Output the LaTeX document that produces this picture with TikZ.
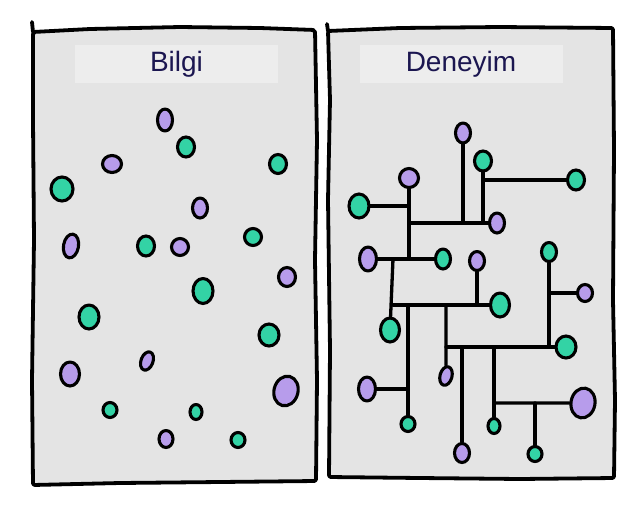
\documentclass[tikz,border=0pt]{standalone}
\usepackage{fontspec}
\setmainfont{Liberation Sans}
\usepackage{tikz}
\usetikzlibrary{shapes.geometric}

\definecolor{panelgrey}{HTML}{E4E4E4}
\definecolor{titlegrey}{HTML}{EDEDED}
\definecolor{lila}{HTML}{B79CEB}
\definecolor{mint}{HTML}{33D3A5}
\definecolor{ink}{HTML}{1B1650}

\begin{document}
\begin{tikzpicture}[x=1pt, y=-1pt, line cap=round, line join=round,
    panel/.style={draw=black, fill=panelgrey, line width=3.8pt, rounded corners=2pt},
    title/.style={fill=titlegrey, minimum width=203pt, minimum height=38pt, inner sep=0pt,
        text=ink, font=\fontsize{28}{30}\selectfont},
    dot/.style={ellipse, draw=black, line width=3.1pt, inner sep=0pt},
    pdot/.style={dot, fill=lila},
    gdot/.style={dot, fill=mint},
    sz/.style 2 args={minimum width=#1pt, minimum height=#2pt},
    wire/.style={draw=black, line width=3.3pt}]
    \useasboundingbox (0,0) rectangle (640,504);

    % the two panels
    \filldraw[panel] (33,32) -- (90,29) -- (180,27) -- (260,28) -- (315,30)
        -- (317,140) -- (315,260) -- (317,380) -- (316,481)
        -- (220,482) -- (120,483) -- (33,485) -- (32,380) -- (34,240) -- (33,120) -- cycle;
    \filldraw[panel] (328,31) -- (400,28) -- (500,27) -- (613,28)
        -- (614,150) -- (613,300) -- (615,400) -- (614,478)
        -- (520,479) -- (420,478) -- (329,477) -- (330,350) -- (328,200) -- (330,100) -- cycle;
    \draw[line width=3.8pt] (33,32) -- (32,22);
    \draw[line width=3.8pt] (328,31) -- (327,24);

    \node[title] (tbilgi) at (176.5,64) {Bilgi};
    \node[title] (tdeneyim) at (461,64) {Deneyim};

    % Bilgi: loose dots
    \node[pdot, sz={15}{22}] (L1) at (165,120) {};
    \node[gdot, sz={17}{20}] (L2) at (186,147) {};
    \node[pdot, sz={19}{17}] (L3) at (112,164) {};
    \node[gdot, sz={17}{19}] (L4) at (278,164) {};
    \node[gdot, sz={22}{24}] (L5) at (62,189) {};
    \node[pdot, sz={15}{20}] (L6) at (200,208) {};
    \node[pdot, sz={15}{24}, rotate=-10] (L7) at (71,246) {};
    \node[gdot, sz={17}{20}] (L8) at (146,246) {};
    \node[pdot, sz={17}{17}] (L9) at (180,247) {};
    \node[gdot, sz={17}{17}] (L10) at (253,237) {};
    \node[pdot, sz={17}{19}] (L11) at (287,277) {};
    \node[gdot, sz={20}{25}] (L12) at (203,291) {};
    \node[gdot, sz={20}{24}] (L13) at (89,317) {};
    \node[gdot, sz={20}{22}] (L14) at (269,335) {};
    \node[pdot, sz={12}{19}, rotate=-20] (L15) at (147,361) {};
    \node[pdot, sz={19}{24}] (L16) at (70,374) {};
    \node[pdot, sz={24}{30}, rotate=-15] (L17) at (286,391) {};
    \node[gdot, sz={14}{15}] (L18) at (110,410) {};
    \node[gdot, sz={12}{15}] (L19) at (196,412) {};
    \node[pdot, sz={14}{17}] (L20) at (166,439) {};
    \node[gdot, sz={14}{15}] (L21) at (238,440) {};

    % Deneyim: the same kind of dots, wired up
    \node[pdot, sz={15}{20}] (R1) at (463,133) {};
    \node[gdot, sz={17}{20}] (R2) at (483,161) {};
    \node[gdot, sz={17}{20}] (R3) at (576,180) {};
    \node[pdot, sz={19}{19}] (R4) at (409,178) {};
    \node[gdot, sz={20}{24}] (R5) at (359,206) {};
    \node[pdot, sz={15}{20}] (R6) at (497,223) {};
    \node[pdot, sz={17}{24}] (R7) at (368,259) {};
    \node[gdot, sz={15}{20}] (R8) at (443,259) {};
    \node[pdot, sz={15}{19}] (R9) at (477,261) {};
    \node[gdot, sz={15}{19}] (R10) at (549,252) {};
    \node[pdot, sz={15}{17}] (R11) at (585,293) {};
    \node[gdot, sz={19}{24}] (R12) at (500,305) {};
    \node[gdot, sz={19}{24}] (R13) at (390,330) {};
    \node[gdot, sz={14}{15}] (R14) at (408,424) {};
    \node[pdot, sz={17}{24}] (R15) at (367,389) {};
    \node[pdot, sz={12}{19}, rotate=-15] (R16) at (446,376) {};
    \node[gdot, sz={20}{22}] (R17) at (566,347) {};
    \node[pdot, sz={15}{19}] (R18) at (462,453) {};
    \node[gdot, sz={12}{15}] (R19) at (494,426) {};
    \node[pdot, sz={24}{30}, rotate=-10] (R20) at (583,403) {};
    \node[gdot, sz={14}{15}] (R21) at (535,454) {};

    \coordinate (jB) at (393,259);

    \draw[wire] (R1) -- (R1 |- R6);
    \draw[wire] (R2) -- (R2 |- R6);
    \draw[wire] (R2 |- R3) -- (R3);
    \draw[wire] (R4) -- (R4 |- R7);
    \draw[wire] (R5) -- (R5 -| R4);
    \draw[wire] (R4 |- R6) -- (R6);
    \draw[wire] (R7) -- (R8);
    \draw[wire] (jB) -- (R13);
    \draw[wire] (jB |- R12) -- (R12);
    \draw[wire] (R9) -- (R9 |- R12);
    \draw[wire] (R14 |- R12) -- (R14);
    \draw[wire] (R15) -- (R15 -| R14);
    \draw[wire] (R16 |- R12) -- (R16);
    \draw[wire] (R10) -- (R10 |- R17);
    \draw[wire] (R10 |- R11) -- (R11);
    \draw[wire] (R16 |- R17) -- (R17);
    \draw[wire] (R18 |- R17) -- (R18);
    \draw[wire] (R19 |- R17) -- (R19);
    \draw[wire] (R19 |- R20) -- (R20);
    \draw[wire] (R21 |- R20) -- (R21);
\end{tikzpicture}
\end{document}
